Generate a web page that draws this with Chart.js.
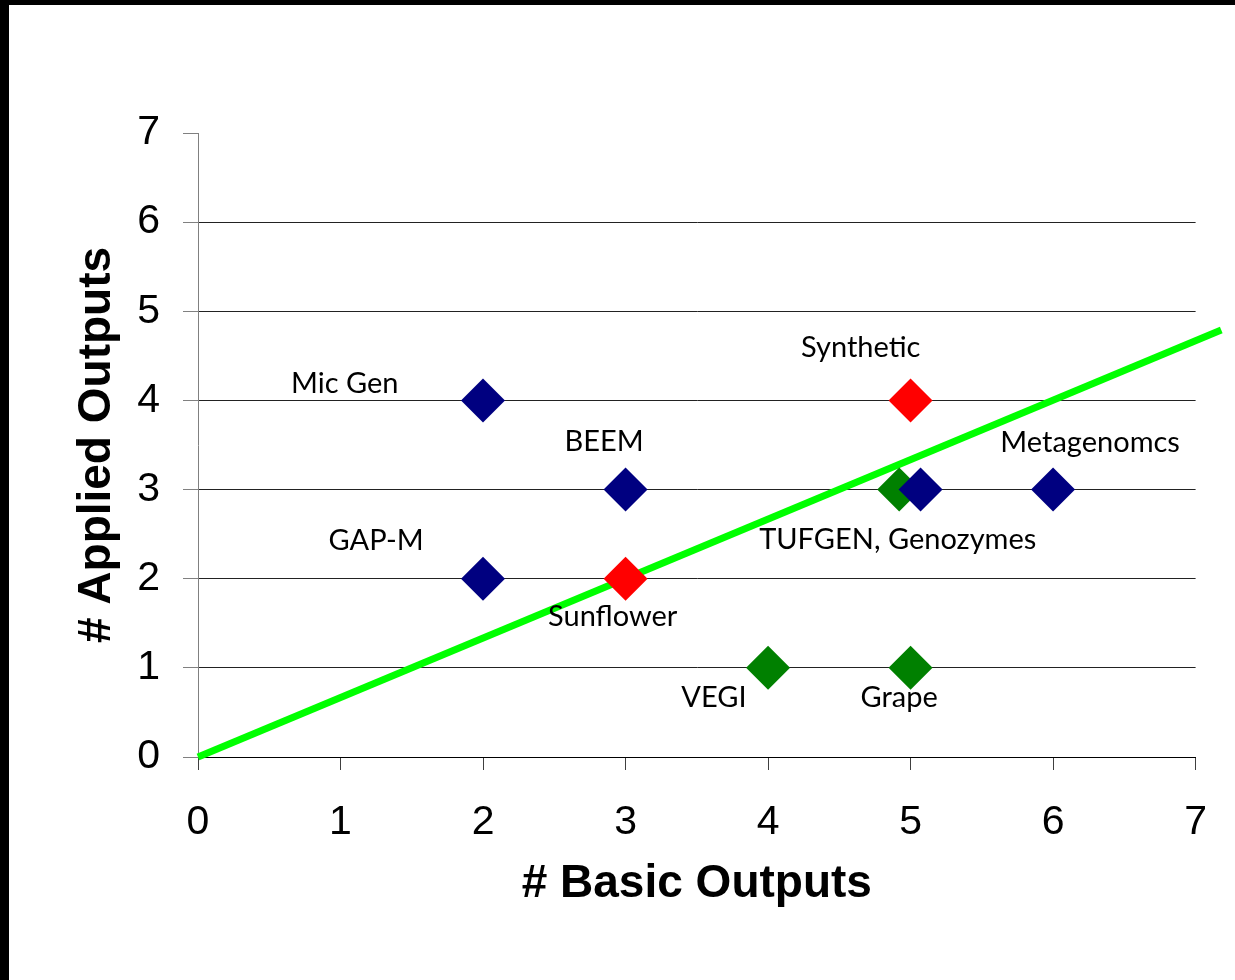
<!DOCTYPE html>
<html>
<head>
<meta charset="utf-8">
<script src="https://cdn.jsdelivr.net/npm/chart.js@4/dist/chart.umd.min.js"></script>
<style>
  html, body { margin: 0; padding: 0; background: #fff; }
  #wrap { position: relative; width: 1235px; height: 980px; }
  canvas { position: absolute; left: 0; top: 0; }
  .bt { position: absolute; left: 0; top: 0; width: 1235px; height: 5px; background: #000; }
  .bl { position: absolute; left: 0; top: 0; width: 9px; height: 980px; background: #000; }
</style>
</head>
<body>
<div id="wrap">
  <canvas id="c" width="1235" height="980"></canvas>
  <div class="bt"></div>
  <div class="bl"></div>
</div>
<script>
// ---- data ----
const blueX = [2, 3, 2, 5.07, 6];
const blueY = [4, 3, 2, 3, 3];
const redX = [5, 3];
const redY = [4, 2];
const greenX = [4.92, 4, 5];
const greenY = [3, 1, 1];
const trendX = [0, 7.18];
const trendY = [0, 4.79];
const xTicks = [0, 1, 2, 3, 4, 5, 6, 7];
const yTicks = [0, 1, 2, 3, 4, 5, 6, 7];
const labelText = ["Mic Gen", "BEEM", "GAP-M", "Synthetic", "Metagenomcs", "TUFGEN, Genozymes", "Sunflower", "VEGI", "Grape"];
const labelX = [1.03, 2.85, 1.25, 4.65, 6.26, 4.91, 2.91, 3.62, 4.92];
const labelY = [4.08, 3.43, 2.32, 4.49, 3.42, 2.33, 1.47, 0.56, 0.56];

const pts = (xs, ys) => xs.map((x, i) => ({ x: x, y: ys[i] }));

const labelPlugin = {
  id: 'pointLabels',
  afterDatasetsDraw(chart) {
    const ctx = chart.ctx;
    const xs = chart.scales.x, ys = chart.scales.y;
    ctx.save();
    ctx.font = '29px Lato, "Open Sans", sans-serif';
    ctx.fillStyle = '#000';
    ctx.textAlign = 'center';
    ctx.textBaseline = 'alphabetic';
    labelText.forEach((t, i) => {
      ctx.fillText(t, xs.getPixelForValue(labelX[i]), ys.getPixelForValue(labelY[i]));
    });
    ctx.restore();
  }
};

const diamond = (color) => ({
  type: 'scatter',
  backgroundColor: color,
  borderColor: color,
  borderWidth: 0,
  pointStyle: 'rectRot',
  pointRadius: 22,
  pointHoverRadius: 22
});

new Chart(document.getElementById('c'), {
  type: 'scatter',
  data: {
    datasets: [
      Object.assign({ label: 'Blue', data: pts(blueX, blueY) }, diamond('#000080')),
      Object.assign({ label: 'Red', data: pts(redX, redY) }, diamond('#FF0000')),
      Object.assign({ label: 'Green', data: pts(greenX, greenY) }, diamond('#008000')),
      {
        type: 'line',
        label: 'Trend',
        data: pts(trendX, trendY),
        borderColor: '#00FF00',
        borderWidth: 7,
        pointRadius: 0,
        fill: false,
        clip: false,
        borderCapStyle: 'butt'
      }
    ]
  },
  options: {
    responsive: false,
    animation: false,
    events: [],
    layout: { padding: { left: 0, top: 133, right: 39, bottom: 0 } },
    plugins: { legend: { display: false }, tooltip: { enabled: false } },
    scales: {
      x: {
        type: 'linear',
        min: 0, max: 7,
        afterFit: (s) => { s.height = 223; },
        afterBuildTicks: (s) => { s.ticks = xTicks.map(v => ({ value: v })); },
        ticks: {
          font: { family: 'Arial, "Liberation Sans", sans-serif', size: 41 },
          color: '#000',
          padding: 28,
          maxRotation: 0
        },
        grid: {
          drawOnChartArea: false,
          drawTicks: true,
          tickLength: 13,
          color: '#404040',
          lineWidth: 1
        },
        border: { color: '#000', width: 1 },
        title: {
          display: true,
          text: '# Basic Outputs',
          color: '#000',
          font: { family: 'Arial, "Liberation Sans", sans-serif', size: 46, weight: 'bold' },
          padding: { top: 0, bottom: 68 }
        }
      },
      y: {
        type: 'linear',
        min: 0, max: 7,
        afterFit: (s) => { s.width = 198; },
        afterBuildTicks: (s) => { s.ticks = yTicks.map(v => ({ value: v })); },
        ticks: {
          font: { family: 'Arial, "Liberation Sans", sans-serif', size: 41 },
          color: '#000',
          padding: 23
        },
        grid: {
          drawTicks: true,
          tickLength: 15,
          color: (c) => (c.tick && c.tick.value === 7) ? 'rgba(0,0,0,0)' : '#222',
          tickColor: '#808080',
          lineWidth: 1
        },
        border: { color: '#808080', width: 1 },
        title: {
          display: true,
          text: '# Applied Outputs',
          color: '#000',
          font: { family: 'Arial, "Liberation Sans", sans-serif', size: 46, weight: 'bold' },
          padding: { top: 70, bottom: 0 }
        }
      }
    }
  },
  plugins: [labelPlugin]
});
</script>
</body>
</html>
